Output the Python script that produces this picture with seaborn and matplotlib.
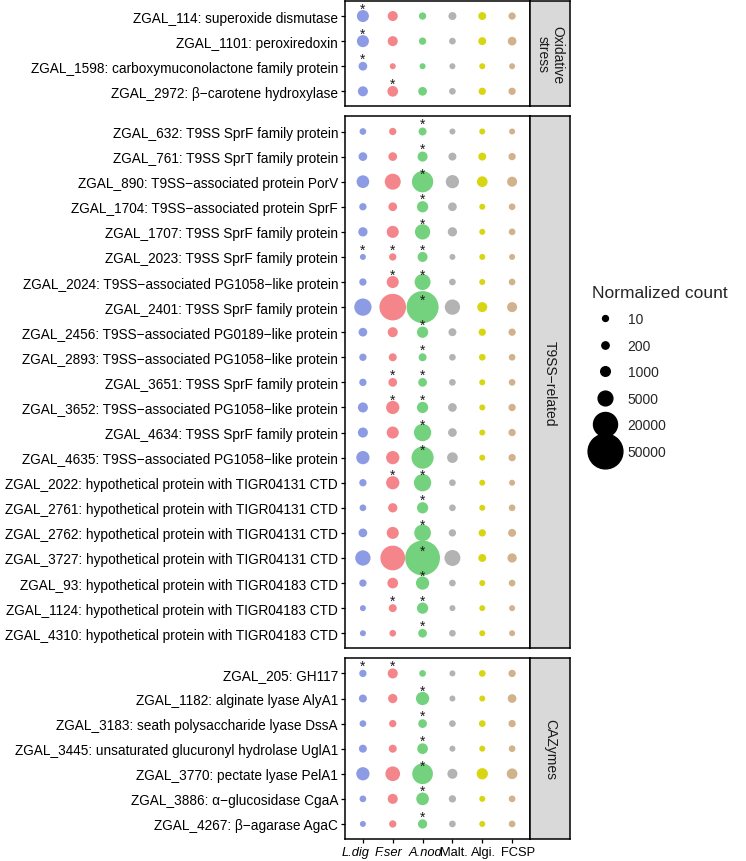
import numpy as np
import pandas as pd
import seaborn as sns
import matplotlib.pyplot as plt
from matplotlib.lines import Line2D

sns.set_style("ticks")
plt.rcParams['font.family'] = ['Liberation Sans', 'DejaVu Sans']

# Muestras (columnas) y colores
samples = ["L.dig", "F.ser", "A.nod", "Malt.", "Algi.", "FCSP"]
sample_colors = ["#8C9BE3", "#F4858A", "#74D27E", "#B3B3B3", "#D8D612", "#D1B28D"]
italic_samples = ["L.dig", "F.ser", "A.nod"]

# Estrés oxidativo
oxid_genes = [
    "ZGAL_114: superoxide dismutase",
    "ZGAL_1101: peroxiredoxin",
    "ZGAL_1598: carboxymuconolactone family protein",
    "ZGAL_2972: \u03b2\u2212carotene hydroxylase",
]
oxid_counts = [
    [2500, 1200, 190, 360, 360, 190],
    [2500, 1200, 190, 80, 360, 600],
    [600, 15, 15, 15, 15, 15],
    [1200, 1570, 600, 80, 190, 190],
]
oxid_sig = [["L.dig"], ["L.dig"], ["L.dig"], ["F.ser"]]

# T9SS
t9ss_genes = [
    "ZGAL_632: T9SS SprF family protein",
    "ZGAL_761: T9SS SprT family protein",
    "ZGAL_890: T9SS\u2212associated protein PorV",
    "ZGAL_1704: T9SS\u2212associated protein SprF",
    "ZGAL_1707: T9SS SprF family protein",
    "ZGAL_2023: T9SS SprF family protein",
    "ZGAL_2024: T9SS\u2212associated PG1058\u2212like protein",
    "ZGAL_2401: T9SS SprF family protein",
    "ZGAL_2456: T9SS\u2212associated PG0189\u2212like protein",
    "ZGAL_2893: T9SS\u2212associated PG1058\u2212like protein",
    "ZGAL_3651: T9SS SprF family protein",
    "ZGAL_3652: T9SS\u2212associated PG1058\u2212like protein",
    "ZGAL_4634: T9SS SprF family protein",
    "ZGAL_4635: T9SS\u2212associated PG1058\u2212like protein",
    "ZGAL_2022: hypothetical protein with TIGR04131 CTD",
    "ZGAL_2761: hypothetical protein with TIGR04131 CTD",
    "ZGAL_2762: hypothetical protein with TIGR04131 CTD",
    "ZGAL_3727: hypothetical protein with TIGR04131 CTD",
    "ZGAL_93: hypothetical protein with TIGR04183 CTD",
    "ZGAL_1124: hypothetical protein with TIGR04183 CTD",
    "ZGAL_4310: hypothetical protein with TIGR04183 CTD",
]
t9ss_counts = [
    [80, 190, 360, 15, 15, 15],
    [600, 600, 1200, 360, 360, 190],
    [3000, 6400, 14500, 3500, 1570, 1200],
    [190, 600, 1960, 600, 15, 80],
    [840, 2500, 5600, 840, 15, 80],
    [15, 190, 1200, 10, 15, 15],
    [190, 2500, 6400, 80, 15, 80],
    [8100, 26000, 41000, 5600, 1200, 1200],
    [600, 1200, 1960, 360, 190, 190],
    [190, 360, 360, 80, 80, 80],
    [190, 600, 600, 80, 15, 80],
    [1200, 3500, 1960, 600, 15, 190],
    [1200, 2500, 8100, 600, 15, 190],
    [3500, 3500, 16000, 1570, 15, 190],
    [190, 3500, 8100, 80, 15, 15],
    [80, 840, 1960, 80, 15, 80],
    [600, 2500, 7300, 190, 190, 360],
    [5600, 21500, 50000, 6400, 360, 840],
    [190, 1570, 3500, 80, 15, 80],
    [15, 360, 1960, 15, 10, 15],
    [15, 80, 600, 80, 15, 15],
]
t9ss_sig = [
    ["A.nod"], ["A.nod"], ["A.nod"], ["A.nod"], ["A.nod"],
    ["L.dig", "F.ser", "A.nod"], ["F.ser", "A.nod"], ["A.nod"],
    ["A.nod"], ["A.nod"], ["F.ser", "A.nod"], ["F.ser", "A.nod"],
    ["A.nod"], ["A.nod"], ["F.ser", "A.nod"], ["A.nod"], ["A.nod"],
    ["A.nod"], ["A.nod"], ["F.ser", "A.nod"], ["A.nod"],
]

# CAZymes
caz_genes = [
    "ZGAL_205: GH117",
    "ZGAL_1182: alginate lyase AlyA1",
    "ZGAL_3183: seath polysaccharide lyase DssA",
    "ZGAL_3445: unsaturated glucuronyl hydrolase UglA1",
    "ZGAL_3770: pectate lyase PelA1",
    "ZGAL_3886: \u03b1\u2212glucosidase CgaA",
    "ZGAL_4267: \u03b2\u2212agarase AgaC",
]
caz_counts = [
    [190, 1200, 80, 15, 80, 190],
    [360, 840, 3500, 15, 15, 600],
    [80, 190, 600, 80, 80, 190],
    [360, 360, 1570, 15, 15, 80],
    [3500, 4900, 13400, 1200, 1960, 1570],
    [80, 1200, 3000, 190, 15, 80],
    [15, 190, 840, 80, 15, 80],
]
caz_sig = [["L.dig", "F.ser"], ["A.nod"], ["A.nod"], ["A.nod"], ["A.nod"], ["A.nod"], ["A.nod"]]

groups = [
    ("Oxidative\nstress", oxid_genes, oxid_counts, oxid_sig),
    ("T9SS\u2212related", t9ss_genes, t9ss_counts, t9ss_sig),
    ("CAZymes", caz_genes, caz_counts, caz_sig),
]

legend_breaks = [10, 200, 1000, 5000, 20000, 50000]


# tamaño del punto: diámetro lineal en sqrt(valor), como scale_size de ggplot
def dot_diameter(v):
    return 5.5 + 0.131 * np.sqrt(v)  # en px


def dot_area(v):
    return (dot_diameter(v) * 0.72) ** 2


palette = dict(zip(samples, sample_colors))
# pequeño desplazamiento horizontal de las etiquetas del eje x (pt)
xlabel_shift = [-5, -3, 2, 1, 1, 4]

W, H = 746, 862
fig = plt.figure(figsize=(W / 100, H / 100), dpi=100)
gs = fig.add_gridspec(3, 1, height_ratios=[len(g[1]) + 0.2 for g in groups],
                      left=345 / W, right=530 / W, top=1 - 2 / H, bottom=1 - 840 / H,
                      hspace=0.037)

for i, (name, genes, counts, sig) in enumerate(groups):
    ax = fig.add_subplot(gs[i])
    df = pd.DataFrame(counts, columns=samples)
    df["row"] = range(len(genes))
    long = df.melt(id_vars="row", var_name="sample", value_name="count")
    long["col"] = long["sample"].map({s: k for k, s in enumerate(samples)})
    sizes = {v: dot_area(v) for v in long["count"].unique()}
    sns.scatterplot(data=long, x="col", y="row", hue="sample", palette=palette,
                    size="count", sizes=sizes, linewidth=0, legend=False, ax=ax)

    # asteriscos de significancia
    for r, marks in enumerate(sig):
        for s in marks:
            ax.annotate("*", xy=(samples.index(s), r), xytext=(0, 5.5),
                        textcoords="offset points", ha="center", va="center",
                        fontsize=10, color="#1A1A1A")

    ax.set_xlim(-0.6, len(samples) - 0.4)
    ax.set_ylim(len(genes) - 0.4, -0.6)
    ax.set_yticks(range(len(genes)))
    ax.set_yticklabels(genes, fontsize=9.85, color="black")
    ax.set_xlabel("")
    ax.set_ylabel("")
    ax.tick_params(axis="y", length=3, width=0.9, pad=2, color="black", left=True)
    ax.set_xticks(range(len(samples)))
    ax.set_xticklabels([])
    if i == len(groups) - 1:
        ax.tick_params(axis="x", length=3, width=0.9, color="black")
        for k, s in enumerate(samples):
            ax.annotate(s, xy=(k, 0), xycoords=("data", "axes fraction"),
                        xytext=(xlabel_shift[k], -5), textcoords="offset points",
                        ha="center", va="top", fontsize=9.3, color="black",
                        fontstyle="italic" if s in italic_samples else "normal")
    else:
        ax.tick_params(axis="x", bottom=False, labelbottom=False)
    for sp in ax.spines.values():
        sp.set_visible(True)
        sp.set_color("black")
        sp.set_linewidth(1.1)

    # tira lateral del facet
    pos = ax.get_position()
    sax = fig.add_axes([pos.x1, pos.y0, 40 / W, pos.height])
    sax.set_facecolor("#D9D9D9")
    sax.set_xticks([])
    sax.set_yticks([])
    for sp in sax.spines.values():
        sp.set_color("black")
        sp.set_linewidth(1.1)
    sax.text(0.5, 0.5, name, rotation=-90, ha="center", va="center",
             fontsize=10, color="#1A1A1A", transform=sax.transAxes, linespacing=1.0)

handles = [Line2D([], [], marker="o", linestyle="", color="black",
                  markersize=dot_diameter(v) * 0.72) for v in legend_breaks]
fig.legend(handles, [str(v) for v in legend_breaks], title="Normalized count",
           loc="upper left", bbox_to_anchor=(586 / W, 1 - 280 / H), frameon=False,
           fontsize=10, title_fontsize=12.5, labelspacing=0.9, handletextpad=0.6,
           alignment="left", borderaxespad=0)

plt.savefig("out.png", dpi=100)
